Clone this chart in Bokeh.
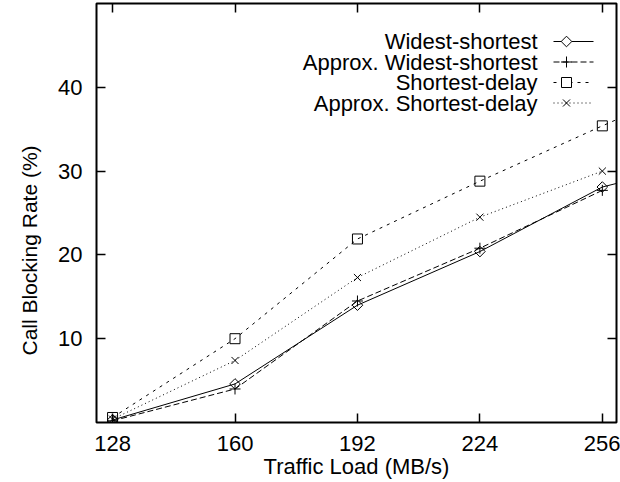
import math
from bokeh.plotting import figure
from bokeh.models import Range1d, FixedTicker, LinearAxis, CustomJSTickFormatter, Label, Title
from bokeh.embed import file_html
from bokeh.resources import INLINE

# ---- data ----
load = [128, 160, 192, 224, 256]
load_ext = [128, 160, 192, 224, 256, 288]
widest_shortest = [0.3, 4.6, 14.0, 20.4, 28.1, 31.8]
approx_widest_shortest = [0.2, 4.0, 14.5, 20.8, 27.7]
shortest_delay = [0.6, 10.0, 21.9, 28.8, 35.4, 41.8]
approx_shortest_delay = [0.4, 7.4, 17.3, 24.5, 30.0]
x_ticks = [128, 160, 192, 224, 256]
y_ticks = [10, 20, 30, 40]
series_names = ["Widest-shortest", "Approx. Widest-shortest",
                "Shortest-delay", "Approx. Shortest-delay"]

FONT = "Liberation Sans"
FS = "22px"
X0, X1 = 123.8, 259.7
Y0, Y1 = 0, 50
L, T, W, H = 96, 3, 520, 419   # frame in pixels

p = figure(width=620, height=482, x_range=Range1d(X0, X1), y_range=Range1d(Y0, Y1),
           output_backend="svg", toolbar_location=None,
           min_border_left=L, min_border_right=620 - L - W, min_border_top=T,
           min_border_bottom=482 - T - H)
p.grid.visible = False
p.outline_line_color = "black"
p.outline_line_width = 2
p.background_fill_color = "white"
p.border_fill_color = "white"

def style_axis(ax, labels=True):
    ax.axis_line_color = None
    ax.major_tick_in = 9
    ax.major_tick_out = 0
    ax.major_tick_line_color = "black"
    ax.major_tick_line_width = 1.5
    ax.minor_tick_line_color = None
    ax.major_label_text_font = FONT
    ax.major_label_text_font_size = FS
    ax.major_label_text_color = "black"
    if not labels:
        ax.formatter = CustomJSTickFormatter(code="return ''")
        ax.major_label_standoff = 0
        ax.major_label_text_font_size = "0px"

xa = p.xaxis[0]
ya = p.yaxis[0]
xa.ticker = FixedTicker(ticks=x_ticks)
ya.ticker = FixedTicker(ticks=y_ticks)
style_axis(xa)
style_axis(ya)
xa.major_label_standoff = 13
ya.major_label_standoff = 14
xa.axis_label = "Traffic Load (MB/s)"
xa.axis_label_text_font = FONT
xa.axis_label_text_font_size = FS
xa.axis_label_text_font_style = "normal"
xa.axis_label_text_color = "black"
xa.axis_label_standoff = 0

top = LinearAxis(ticker=FixedTicker(ticks=x_ticks))
style_axis(top, labels=False)
p.add_layout(top, "above")
right = LinearAxis(ticker=FixedTicker(ticks=y_ticks))
style_axis(right, labels=False)
p.add_layout(right, "right")

# ---- y axis title ----
p.add_layout(Title(text="Call Blocking Rate (%)", align="left", offset=67,
                   text_font=FONT, text_font_size="21px", text_font_style="normal",
                   text_color="black", standoff=30), "left")

# ---- series ----
styles = [
    dict(dash="solid", marker="square", angle=math.pi / 4, size=7.5),
    dict(dash="6 3", marker="cross", angle=0, size=11),
    dict(dash="3 5", marker="square", angle=0, size=10),
    dict(dash="1 3", marker="x", angle=0, size=10),
]
series = [(load_ext, widest_shortest), (load, approx_widest_shortest),
          (load_ext, shortest_delay), (load, approx_shortest_delay)]

for (xs, ys), st in zip(series, styles):
    p.line(xs, ys, line_color="black", line_width=1, line_dash=st["dash"])
    p.scatter(xs, ys, marker=st["marker"], angle=st["angle"], size=st["size"],
              fill_color=None, line_color="black", line_width=1)

# ---- legend (gnuplot style: right aligned text, sample on the right) ----
def dx(px):
    return X0 + (px - L) / W * (X1 - X0)

def dy(py):
    return Y1 - (py - T) / H * (Y1 - Y0)

rows = [41, 61.5, 82, 102.5]
for name, st, ry in zip(series_names, styles, rows):
    p.add_layout(Label(x=537 - L, y=T + H - ry, x_units="screen", y_units="screen",
                       text=name, text_align="right", text_baseline="middle",
                       text_font=FONT, text_font_size=FS, text_color="black"))
    p.line([dx(553), dx(593)], [dy(ry), dy(ry)], line_color="black", line_width=1,
           line_dash=st["dash"])
    p.scatter([dx(566)], [dy(ry)], marker=st["marker"], angle=st["angle"], size=st["size"],
              fill_color="white", line_color="black", line_width=1)

open("out.html", "w").write(file_html(p, INLINE))
